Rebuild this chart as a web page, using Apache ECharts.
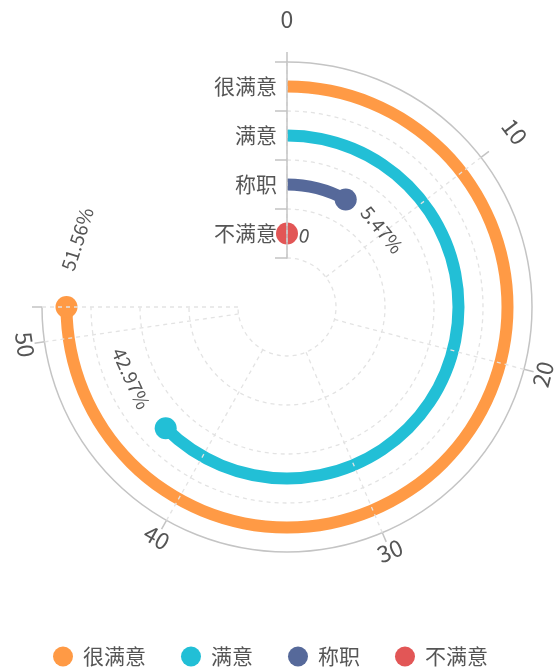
<!DOCTYPE html>
<html><head><meta charset="utf-8">
<script src="https://cdn.jsdelivr.net/npm/echarts@6/dist/echarts.min.js"></script>
<style>html,body{margin:0;padding:0;background:#fff}#c{width:558px;height:668px}</style>
</head><body><div id="c"></div>
<script>
// radius-axis categories, inner to outer
const categories = ['不满意', '称职', '满意', '很满意'];
// series (legend order) and their values
const seriesNames = ['很满意', '满意', '称职', '不满意'];
const seriesValues = [51.56, 42.97, 5.47, 0];
const colors = ['#FF9A45', '#22BFD6', '#56699A', '#E25656'];
// angle axis
const angleMax = 51.56;
const angleInterval = 10;
const angleTickLabels = [0, 10, 20, 30, 40, 50];

const FONT = '"Noto Sans CJK SC", "Noto Sans", sans-serif';
const TEXT_COLOR = '#555';
const AXIS_COLOR = '#c4c4c4';
const SPLIT_COLOR = '#e3e3e3';

const measureCtx = document.createElement('canvas').getContext('2d');
function textWidth(t, fs) {
  measureCtx.font = fs + 'px ' + FONT;
  return measureCtx.measureText(t).width;
}
// tangential, readable rotation for a point at screen angle phi (y-down)
function tangentRotation(phi) {
  let psi = phi + Math.PI / 2;
  if (Math.cos(psi) < -1e-6) psi += Math.PI;
  return -psi;
}
function polarInfo(params, api) {
  const cs = params.coordSys;
  const p = api.coord([api.value(0), api.value(1)]);
  const dx = p[0] - cs.cx, dy = p[1] - cs.cy;
  return { cs: cs, r: Math.sqrt(dx * dx + dy * dy), phi: Math.atan2(dy, dx) };
}
function arcAngles(params, api, radiusVal, fromVal, toVal) {
  const cs = params.coordSys;
  const p0 = api.coord([radiusVal, fromVal]);
  const p1 = api.coord([radiusVal, toVal]);
  const a0 = Math.atan2(p0[1] - cs.cy, p0[0] - cs.cx);
  const a1 = Math.atan2(p1[1] - cs.cy, p1[0] - cs.cx);
  const sweep = ((a1 - a0) % (2 * Math.PI) + 2 * Math.PI) % (2 * Math.PI);
  return [a0, a0 + sweep];
}

const chart = echarts.init(document.getElementById('c'));

const VALUE_FS = 19;
const LABEL_GAP = 9.5 * Math.PI / 180;
const series = [];
seriesNames.forEach((name, i) => {
  series.push({
    name: name,
    type: 'bar',
    coordinateSystem: 'polar',
    stack: 'all',
    barWidth: 12,
    z: 2,
    itemStyle: { color: colors[i] },
    data: categories.map(c => c === name ? seriesValues[i] : '-')
  });
});
seriesNames.forEach((name, i) => {
  series.push({
    name: name,
    type: 'scatter',
    coordinateSystem: 'polar',
    symbol: 'circle',
    symbolSize: 22,
    z: 3,
    itemStyle: { color: colors[i], opacity: 1 },
    data: [[name, seriesValues[i]]]
  });
});
// value labels, set tangentially beyond each bar end
seriesNames.forEach((name, i) => {
  const v = seriesValues[i];
  const txt = v ? v + '%' : String(v);
  series.push({
    name: name,
    type: 'custom',
    coordinateSystem: 'polar',
    silent: true,
    z: 5,
    data: [[name, v]],
    renderItem: (params, api) => {
      const info = polarInfo(params, api);
      const w = textWidth(txt, VALUE_FS);
      const phiC = info.phi + LABEL_GAP + (w / 2) / info.r;
      return {
        type: 'text',
        x: info.cs.cx + info.r * Math.cos(phiC),
        y: info.cs.cy + info.r * Math.sin(phiC),
        rotation: tangentRotation(phiC),
        style: { text: txt, fill: TEXT_COLOR, fontSize: VALUE_FS, fontFamily: FONT, align: 'center', verticalAlign: 'middle' }
      };
    }
  });
});
// dashed category-boundary arcs (0 .. angleMax only)
series.push({
  type: 'custom',
  coordinateSystem: 'polar',
  silent: true,
  z: 1,
  data: categories.map((c, i) => [i, angleMax]),
  renderItem: (params, api) => {
    const cs = params.coordSys;
    const info = polarInfo(params, api);
    const band = (cs.r - cs.r0) / categories.length;
    const ang = arcAngles(params, api, api.value(0), 0, api.value(1));
    return {
      type: 'arc',
      shape: { cx: cs.cx, cy: cs.cy, r: info.r - band / 2, startAngle: ang[0], endAngle: ang[1], clockwise: true },
      style: { stroke: SPLIT_COLOR, lineWidth: 1.3, lineDash: [4, 4], fill: null }
    };
  }
});
// outer angle-axis arc (0 .. angleMax only)
series.push({
  type: 'custom',
  coordinateSystem: 'polar',
  silent: true,
  z: 1,
  data: [[categories.length - 1, angleMax]],
  renderItem: (params, api) => {
    const cs = params.coordSys;
    const ang = arcAngles(params, api, api.value(0), 0, api.value(1));
    return {
      type: 'arc',
      shape: { cx: cs.cx, cy: cs.cy, r: cs.r, startAngle: ang[0], endAngle: ang[1], clockwise: true },
      style: { stroke: AXIS_COLOR, lineWidth: 1.5, fill: null }
    };
  }
});
// angle-axis tick labels, tangential
series.push({
  type: 'custom',
  coordinateSystem: 'polar',
  silent: true,
  z: 5,
  data: angleTickLabels.map(v => [categories.length - 1, v]),
  renderItem: (params, api) => {
    const info = polarInfo(params, api);
    const rr = info.cs.r + 31;
    return {
      type: 'text',
      x: info.cs.cx + rr * Math.cos(info.phi),
      y: info.cs.cy + rr * Math.sin(info.phi),
      rotation: tangentRotation(info.phi),
      style: { text: String(api.value(1)), fill: TEXT_COLOR, fontSize: 23, fontFamily: FONT, align: 'center', verticalAlign: 'bottom' }
    };
  }
});

chart.setOption({
  animation: false,
  backgroundColor: '#fff',
  textStyle: { fontFamily: FONT },
  polar: { center: [287, 307], radius: [49, 245] },
  angleAxis: {
    type: 'value',
    min: 0,
    max: angleMax,
    interval: angleInterval,
    startAngle: 90,
    endAngle: -180,
    clockwise: true,
    z: 4,
    axisLine: { show: false },
    axisTick: { show: true, length: 10, lineStyle: { color: AXIS_COLOR, width: 1.5 } },
    splitLine: { show: true, lineStyle: { color: SPLIT_COLOR, type: [4, 4], width: 1.3 } },
    axisLabel: { show: false }
  },
  radiusAxis: {
    type: 'category',
    data: categories,
    z: 4,
    axisLine: { show: true, lineStyle: { color: AXIS_COLOR, width: 1.5 } },
    axisTick: { show: true, length: 12, lineStyle: { color: AXIS_COLOR, width: 1.5 } },
    splitLine: { show: false },
    axisLabel: { interval: 0, color: TEXT_COLOR, fontSize: 21, fontFamily: FONT, margin: 10 }
  },
  legend: {
    data: seriesNames,
    top: 641,
    left: 48,
    icon: 'circle',
    itemWidth: 20,
    itemHeight: 20,
    itemGap: 35,
    textStyle: { color: TEXT_COLOR, fontSize: 21, fontFamily: FONT, padding: [0, 0, 0, 5] }
  },
  series: series
});
</script>
</body></html>
